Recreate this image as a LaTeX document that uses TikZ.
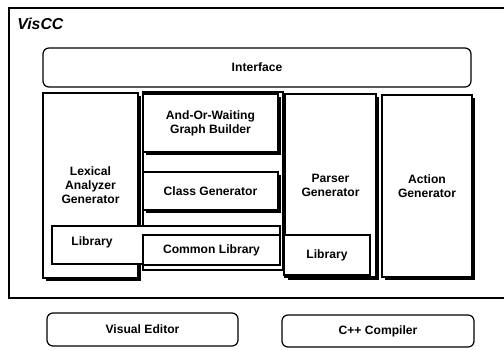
\documentclass[tikz,border=0pt]{standalone}
\usepackage{fontspec}
\setmainfont{Liberation Sans}
\usetikzlibrary{shadows}
\newcommand\pxu[1]{#1*0.02cm}
\begin{document}
\begin{tikzpicture}[x=0.02cm,y=-0.02cm,
  txt/.style={font=\fontsize{6.9}{8}\selectfont\bfseries, align=center},
  plain/.style={draw, line width=0.7pt, fill=white, inner sep=0pt, outer sep=0pt, txt},
  sbox/.style={plain, drop shadow={shadow xshift=0.06cm, shadow yshift=-0.06cm, fill=black, opacity=1}},
  rbox/.style={plain, rounded corners=0.12cm},
  sz/.style 2 args={minimum width=\pxu{#1}, minimum height=\pxu{#2}}
]
\useasboundingbox (0,0) rectangle (504,349);
% outer frame
\draw[line width=0.8pt] (9,8) rectangle (507,298);
\node[anchor=west, inner sep=0pt, font=\fontsize{9}{10}\selectfont\bfseries\itshape] (title) at (17,23.5) {VisCC};
% interface
\node[rbox, sz={428}{39}] (iface) at (257,67.5) {Interface};
% middle column
\node[plain, sz={140}{178}] (mid) at (213,181) {};
% lexical
\node[sbox, sz={95}{185}, yshift=\pxu{-1}] (lex) at (90.5,184.5) {Lexical\\Analyzer\\Generator};
% and-or
\node[sbox, sz={135}{58}] (andor) at (210.5,123) {And-Or-Waiting\\Graph Builder};
\node[sbox, sz={135}{38}] (cls) at (210.5,191) {Class Generator};
% parser & action
\node[sbox, sz={91}{183}] (parser) at (330.5,185.5) {Parser\\Generator};
\node[sbox, sz={90}{182}] (action) at (427,186) {Action\\Generator};
% library region
\node[plain, sz={228}{38}] (libreg) at (166,245) {};
\node[txt] (lexlib) at (92,242) {Library};
\node[plain, sz={137}{30}] (comlib) at (211.5,250) {Common Library};
\node[plain, sz={86}{40}] (parlib) at (327,255) {Library};
% bottom tools
\node[rbox, sz={191}{33}] (ved) at (142.5,329.5) {Visual Editor};
\node[rbox, sz={192}{32}] (cpp) at (378,331) {C++ Compiler};
\end{tikzpicture}
\end{document}
